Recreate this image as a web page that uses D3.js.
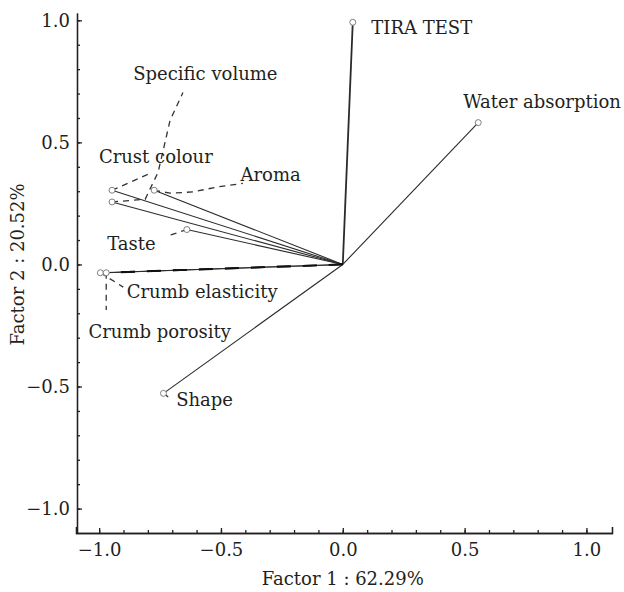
<!DOCTYPE html>
<html lang="en">
<head>
  <meta charset="UTF-8" />
  <title>Factor loadings</title>
  <style>
    body { margin: 0; padding: 0; background: #fff; }
    svg text { font-family: "DejaVu Serif", serif; fill: #231f20; }
    .axis path, .axis line { stroke: #231f20; }
  </style>
</head>
<body>
  <svg id="chart"></svg>

  <script src="https://d3js.org/d3.v7.min.js"></script>
  <script>
    // variables and their loadings on factor 1 / factor 2
    const variables = ["TIRA TEST", "Water absorption", "Specific volume", "Crust colour",
                       "Aroma", "Taste", "Crumb elasticity", "Crumb porosity", "Shape"];
    const factor1 = [0.041, 0.556, -0.947, -0.947, -0.774, -0.640, -0.995, -0.971, -0.736];
    const factor2 = [0.992, 0.581, 0.256, 0.304, 0.304, 0.143, -0.034, -0.034, -0.528];

    // where each label sits (data units), and its dashed leader line
    const labelAt = [
      [0.117, 0.946], [0.494, 0.639], [-0.860, 0.754], [-1.001, 0.415],
      [-0.420, 0.343], [-0.967, 0.059], [-0.887, -0.138], [-1.044, -0.301], [-0.684, -0.580]
    ];
    const leaders = [
      [],
      [],
      [[-0.947, 0.256], [-0.811, 0.267], [-0.758, 0.378], [-0.737, 0.468], [-0.709, 0.590], [-0.656, 0.704]],
      [[-0.947, 0.304], [-0.791, 0.373]],
      [[-0.774, 0.304], [-0.709, 0.292], [-0.615, 0.297], [-0.517, 0.317], [-0.410, 0.332]],
      [[-0.640, 0.143], [-0.721, 0.116]],
      [[-0.995, -0.034], [-0.901, -0.093]],
      [[-0.971, -0.034], [-0.971, -0.187]],
      [[-0.736, -0.528], [-0.701, -0.555]]
    ];

    const majorTicks = [-1.0, -0.5, 0.0, 0.5, 1.0];
    const minorTicks = d3.range(-10, 11).map(d => d / 10);
    const xTitle = "Factor 1 : 62.29%";
    const yTitle = "Factor 2 : 20.52%";

    const width = 624, height = 592;
    const fs = 18;
    const svg = d3.select("#chart").attr("width", width).attr("height", height);

    const x = d3.scaleLinear().domain([-1.095, 1.105]).range([76, 612]);
    const y = d3.scaleLinear().domain([-1.1, 1.03]).range([533, 13]);
    const fmt = d3.format(".1f");

    // x axis: minor then major ticks, all pointing inward
    svg.append("g").attr("class", "axis").attr("transform", `translate(0,${y.range()[0]})`)
      .call(d3.axisBottom(x).tickValues(minorTicks).tickSize(-3).tickSizeOuter(-6).tickFormat(""));
    const gx = svg.append("g").attr("class", "axis").attr("transform", `translate(0,${y.range()[0]})`)
      .call(d3.axisBottom(x).tickValues(majorTicks).tickSize(-5).tickSizeOuter(-6).tickFormat(fmt));
    gx.selectAll("text").attr("font-size", fs).attr("dy", "1.05em").attr("y", 4);

    svg.append("g").attr("class", "axis").attr("transform", `translate(${x.range()[0] + 1},0)`)
      .call(d3.axisLeft(y).tickValues(minorTicks).tickSize(-3).tickSizeOuter(0).tickFormat(""));
    const gy = svg.append("g").attr("class", "axis").attr("transform", `translate(${x.range()[0] + 1},0)`)
      .call(d3.axisLeft(y).tickValues(majorTicks).tickSize(-5).tickSizeOuter(0).tickFormat(fmt));
    gy.selectAll("text").attr("font-size", fs).attr("x", -7);
    svg.selectAll(".axis path, .axis line").attr("stroke-width", 1.3);
    svg.selectAll(".axis text").attr("font-family", "DejaVu Serif").attr("fill", "#231f20");

    svg.append("text")
      .attr("x", x(0)).attr("y", 585)
      .attr("text-anchor", "middle").attr("font-size", fs)
      .text(xTitle);
    svg.append("text")
      .attr("transform", `translate(24,${y(0)}) rotate(-90)`)
      .attr("text-anchor", "middle").attr("font-size", fs)
      .text(yTitle);

    const rows = variables.map((name, i) => ({
      name, f1: factor1[i], f2: factor2[i], label: labelAt[i], leader: leaders[i]
    }));

    // vectors from origin
    svg.append("g").selectAll("line").data(rows).join("line")
      .attr("x1", x(0)).attr("y1", y(0))
      .attr("x2", d => x(d.f1)).attr("y2", d => y(d.f2))
      .attr("stroke", "#2b2b2b")
      .attr("stroke-width", d => d.name === "TIRA TEST" ? 1.8 : 1.1);

    // heavy dashed overlay on the crumb vectors
    svg.append("g").selectAll("line")
      .data(rows.filter(d => d.name.startsWith("Crumb"))).join("line")
      .attr("x1", x(0)).attr("y1", y(0))
      .attr("x2", d => x(d.f1)).attr("y2", d => y(d.f2))
      .attr("stroke", "#111").attr("stroke-width", 1.8)
      .attr("stroke-dasharray", "14,12");

    // dashed leaders
    const leaderLine = d3.line().x(p => x(p[0])).y(p => y(p[1]));
    svg.append("g").selectAll("path")
      .data(rows.filter(d => d.leader.length)).join("path")
      .attr("d", d => leaderLine(d.leader))
      .attr("fill", "none").attr("stroke", "#333")
      .attr("stroke-width", 1.3).attr("stroke-dasharray", "6,5");

    // point markers
    svg.append("g").selectAll("circle").data(rows).join("circle")
      .attr("cx", d => x(d.f1)).attr("cy", d => y(d.f2)).attr("r", 3)
      .attr("fill", "#fff").attr("stroke", "#808080").attr("stroke-width", 1);

    // labels
    svg.append("g").selectAll("text").data(rows).join("text")
      .attr("x", d => x(d.label[0])).attr("y", d => y(d.label[1]))
      .attr("font-size", fs)
      .text(d => d.name);
  </script>
</body>
</html>
